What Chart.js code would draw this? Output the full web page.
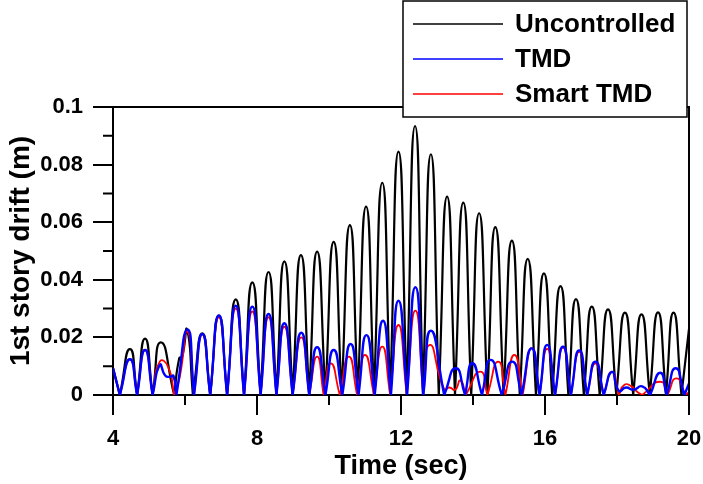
<!DOCTYPE html>
<html>
<head>
<meta charset="utf-8">
<script src="https://cdn.jsdelivr.net/npm/chart.js@4.4.1/dist/chart.umd.min.js"></script>
<style>
  html, body { margin: 0; padding: 0; background: #fff; }
  canvas { display: block; }
</style>
</head>
<body>
<canvas id="drift-chart" width="703" height="484"></canvas>
<script>
// Time (sec) / drift (m): zeros and hump peaks
const uncT = [
  4.0, 4.19, 4.47, 4.67, 4.89, 5.1, 5.33, 5.7, 5.84, 5.92,
  6.06, 6.22, 6.48, 6.7, 6.94, 7.17, 7.41, 7.64, 7.87, 8.1,
  8.32, 8.54, 8.76, 8.99, 9.22, 9.45, 9.67, 9.9, 10.13, 10.35,
  10.58, 10.8, 11.03, 11.25, 11.48, 11.7, 11.93, 12.16, 12.39, 12.61,
  12.83, 13.05, 13.28, 13.5, 13.73, 13.95, 14.17, 14.4, 14.62, 14.85,
  15.08, 15.3, 15.52, 15.75, 15.97, 16.2, 16.43, 16.65, 16.86, 17.08,
  17.3, 17.52, 17.75, 17.98, 18.22, 18.45, 18.68, 18.91, 19.14, 19.36,
  19.57, 19.79, 20.0
];
const uncY = [
  0.0094, 0, 0.0159, 0, 0.0196, 0, 0.0183, 0, 0.0128, 0.0133,
  0.0226, 0, 0.0214, 0, 0.0276, 0, 0.0332, 0, 0.0391, 0,
  0.0427, 0, 0.0464, 0, 0.0486, 0, 0.0498, 0, 0.0532, 0,
  0.059, 0, 0.0654, 0, 0.0737, 0, 0.0845, 0, 0.0934, 0,
  0.0836, 0, 0.0689, 0, 0.0668, 0, 0.0631, 0, 0.0583, 0,
  0.0536, 0, 0.0473, 0, 0.0422, 0, 0.0378, 0, 0.0333, 0,
  0.0307, 0, 0.0297, 0, 0.0286, 0, 0.028, 0, 0.0287, 0,
  0.0286, 0, 0.023
];

const tmdT = [
  4.0, 4.19, 4.47, 4.67, 4.89, 5.1, 5.3, 5.45, 5.58, 5.68,
  5.76, 6.07, 6.25, 6.48, 6.7, 6.94, 7.17, 7.41, 7.64, 7.87,
  8.1, 8.32, 8.54, 8.76, 8.99, 9.23, 9.45, 9.67, 9.9, 10.13,
  10.37, 10.6, 10.82, 11.04, 11.27, 11.5, 11.72, 11.93, 12.17, 12.4,
  12.62, 12.83, 13.2, 13.52, 13.78, 13.98, 14.25, 14.49, 14.8, 15.09,
  15.35, 15.63, 15.85, 16.06, 16.28, 16.5, 16.72, 16.95, 17.17, 17.4,
  17.63, 17.86, 18.05, 18.25, 18.45, 18.7, 18.92, 19.2, 19.38, 19.63,
  19.87, 20.0
];
const tmdY = [
  0.0094, 0, 0.0124, 0, 0.0156, 0, 0.0104, 0.0068, 0.0063, 0.0066,
  0, 0.0228, 0, 0.0212, 0, 0.0276, 0, 0.031, 0, 0.0307,
  0, 0.0281, 0, 0.0249, 0, 0.0216, 0, 0.0166, 0, 0.0156,
  0, 0.0177, 0, 0.0208, 0, 0.0258, 0, 0.0327, 0, 0.0374,
  0, 0.0223, 0, 0.0093, 0, 0.011, 0, 0.0122, 0, 0.0116,
  0, 0.0162, 0, 0.0174, 0, 0.0168, 0, 0.0155, 0, 0.0116,
  0, 0.008, 0.0015, 0.0026, 0.0018, 0.003, 0, 0.0077, 0, 0.0093,
  0, 0.004
];

const smartT = [
  4.0, 4.19, 4.47, 4.67, 4.89, 5.1, 5.3, 5.53, 5.7, 5.85,
  6.07, 6.25, 6.48, 6.7, 6.94, 7.17, 7.41, 7.64, 7.87, 8.1,
  8.32, 8.54, 8.76, 8.99, 9.23, 9.45, 9.67, 9.85, 10.05, 10.3,
  10.55, 10.78, 11.0, 11.25, 11.48, 11.7, 11.93, 12.16, 12.4, 12.62,
  12.8, 13.2, 13.35, 13.5, 13.65, 13.8, 14.2, 14.4, 14.7, 14.9,
  15.15, 15.38, 15.63, 15.85, 16.06, 16.28, 16.5, 16.72, 16.95, 17.17,
  17.4, 17.63, 17.86, 18.05, 18.2, 18.4, 18.55, 18.7, 19.2, 19.4,
  19.65, 19.9, 20.0
];
const smartY = [
  0.0094, 0, 0.0124, 0, 0.0156, 0, 0.0116, 0.0098, 0, 0.006,
  0.022, 0, 0.021, 0, 0.027, 0, 0.030, 0, 0.029, 0,
  0.027, 0, 0.0237, 0, 0.020, 0, 0.0133, 0, 0.011, 0,
  0.0133, 0, 0.0139, 0, 0.0168, 0, 0.0243, 0, 0.0293, 0,
  0.0174, 0.002, 0.0026, 0.0018, 0.005, 0, 0.0081, 0, 0.0116, 0,
  0.0139, 0, 0.0163, 0, 0.016, 0, 0.0165, 0, 0.015, 0,
  0.011, 0, 0.0081, 0, 0.0035, 0.003, 0.0012, 0, 0.0046, 0,
  0.0058, 0, 0.001
];

const seriesLabels = ['Uncontrolled', 'TMD', 'Smart TMD'];
const seriesColors = ['#000000', '#0000ff', '#ff0000'];
const minorX = [6, 10, 14, 18];
const minorY = [0.01, 0.03, 0.05, 0.07, 0.09];

const FONT = "'Liberation Sans', Arial, sans-serif";

// each hump is its own segment so the curve has a sharp V at zero
function toPoints(times, values) {
  const pts = [];
  times.forEach((t, i) => {
    pts.push({ x: t, y: values[i] });
    if (values[i] === 0 && i > 0 && i < times.length - 1) {
      pts.push({ x: t, y: null });
      pts.push({ x: t, y: 0 });
    }
  });
  return pts;
}

const framePlugin = {
  id: 'frame',
  afterDraw(chart) {
    const { ctx, chartArea: a } = chart;
    const x = chart.scales.x, y = chart.scales.y;
    ctx.save();
    ctx.strokeStyle = '#000';
    ctx.lineWidth = 2;
    ctx.beginPath();
    ctx.moveTo(a.left, a.top);
    ctx.lineTo(a.right, a.top);
    ctx.lineTo(a.right, a.bottom);
    minorX.forEach(v => {
      const px = x.getPixelForValue(v);
      ctx.moveTo(px, a.bottom);
      ctx.lineTo(px, a.bottom + 10);
    });
    minorY.forEach(v => {
      const py = y.getPixelForValue(v);
      ctx.moveTo(a.left, py);
      ctx.lineTo(a.left - 10, py);
    });
    ctx.stroke();

    // legend box sits over the top-right corner of the frame
    const box = { left: 403, top: 1, right: 687, bottom: 117 };
    ctx.fillStyle = '#fff';
    ctx.fillRect(box.left, box.top, box.right - box.left, box.bottom - box.top);
    ctx.lineWidth = 1.5;
    ctx.strokeRect(box.left, box.top, box.right - box.left, box.bottom - box.top);

    ctx.font = `bold 26px ${FONT}`;
    ctx.textBaseline = 'middle';
    ctx.textAlign = 'left';
    chart.data.datasets.forEach((ds, i) => {
      const ly = 24 + i * 35;
      ctx.strokeStyle = ds.borderColor;
      ctx.lineWidth = 1.6;
      ctx.beginPath();
      ctx.moveTo(413, ly);
      ctx.lineTo(503, ly);
      ctx.stroke();
      ctx.fillStyle = '#000';
      ctx.fillText(ds.label, 515, ly + 1);
    });
    ctx.restore();
  }
};

const ctx = document.getElementById('drift-chart').getContext('2d');
new Chart(ctx, {
  type: 'line',
  data: {
    datasets: [
      { label: seriesLabels[0], data: toPoints(uncT, uncY), borderColor: seriesColors[0], borderWidth: 2.2, order: 3 },
      { label: seriesLabels[1], data: toPoints(tmdT, tmdY), borderColor: seriesColors[1], borderWidth: 2.4, order: 1 },
      { label: seriesLabels[2], data: toPoints(smartT, smartY), borderColor: seriesColors[2], borderWidth: 1.8, order: 2 }
    ]
  },
  options: {
    responsive: false,
    animation: false,
    events: [],
    layout: { padding: { top: 107, right: 14, left: 0, bottom: 0 } },
    elements: {
      point: { radius: 0 },
      line: { tension: 0.6, fill: false }
    },
    plugins: {
      legend: { display: false },
      tooltip: { enabled: false }
    },
    scales: {
      x: {
        type: 'linear',
        min: 4,
        max: 20,
        afterFit: s => { s.height = 89; s.paddingLeft = 0; s.paddingRight = 0; },
        ticks: {
          stepSize: 4,
          padding: 11,
          color: '#000',
          font: { family: FONT, size: 22, weight: 'bold' }
        },
        grid: { drawOnChartArea: false, tickLength: 20, color: '#000', lineWidth: 2 },
        border: { display: true, color: '#000', width: 2 },
        title: {
          display: true,
          text: 'Time (sec)',
          color: '#000',
          padding: { top: 0, bottom: 4 },
          font: { family: FONT, size: 27, weight: 'bold', lineHeight: 1 }
        }
      },
      y: {
        min: 0,
        max: 0.1,
        afterFit: s => { s.width = 113; },
        ticks: {
          stepSize: 0.02,
          padding: 10,
          color: '#000',
          font: { family: FONT, size: 22, weight: 'bold' },
          callback: v => String(Number(v.toFixed(3)))
        },
        grid: { drawOnChartArea: false, tickLength: 20, color: '#000', lineWidth: 2 },
        border: { display: true, color: '#000', width: 2 },
        title: {
          display: true,
          text: '1st story drift (m)',
          color: '#000',
          padding: { top: 4, bottom: 0 },
          font: { family: FONT, size: 28, weight: 'bold', lineHeight: 1.2 }
        }
      }
    }
  },
  plugins: [framePlugin]
});
</script>
</body>
</html>
